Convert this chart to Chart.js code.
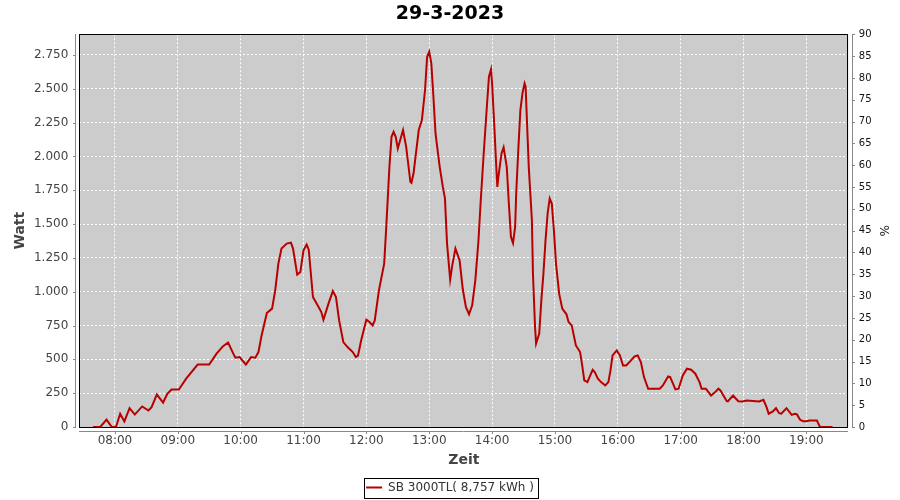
<!DOCTYPE html>
<html>
<head>
<meta charset="utf-8">
<title>29-3-2023</title>
<script src="https://cdn.jsdelivr.net/npm/chart.js@4.4.0/dist/chart.umd.min.js"></script>
<style>
  html, body { margin: 0; padding: 0; background: #ffffff; }
  #wrap { width: 900px; height: 500px; }
</style>
</head>
<body>
<div id="wrap"><canvas id="power" width="900" height="500"></canvas></div>
<script>
var times = [
  "07:39", "07:46", "07:52", "07:57", "08:01", "08:05", "08:09", "08:14", "08:19", "08:26",
  "08:32", "08:35", "08:40", "08:46", "08:50", "08:54", "09:01", "09:08", "09:19", "09:30",
  "09:37", "09:43", "09:48", "09:53", "09:55", "09:59", "10:05", "10:10", "10:14", "10:17",
  "10:20", "10:25", "10:30", "10:33", "10:36", "10:39", "10:44", "10:48", "10:50", "10:54",
  "10:57", "11:00", "11:03", "11:05", "11:09", "11:14", "11:17", "11:19", "11:24", "11:28",
  "11:31", "11:34", "11:38", "11:42", "11:47", "11:50", "11:52", "11:55", "12:00", "12:03",
  "12:06", "12:08", "12:12", "12:17", "12:19", "12:22", "12:24", "12:26", "12:28", "12:30",
  "12:35", "12:38", "12:42", "12:43", "12:45", "12:50", "12:53", "12:56", "12:58", "13:00",
  "13:02", "13:04", "13:06", "13:10", "13:13", "13:15", "13:17", "13:20", "13:22", "13:25",
  "13:29", "13:32", "13:35", "13:38", "13:41", "13:44", "13:47", "13:49", "13:52", "13:55",
  "13:57", "13:59", "14:00", "14:02", "14:04", "14:05", "14:06", "14:09", "14:11", "14:14",
  "14:16", "14:18", "14:20", "14:22", "14:23", "14:25", "14:27", "14:29", "14:31", "14:32",
  "14:33", "14:35", "14:38", "14:39", "14:41", "14:42", "14:45", "14:47", "14:49", "14:51",
  "14:53", "14:55", "14:57", "14:59", "15:01", "15:04", "15:07", "15:11", "15:13", "15:16",
  "15:20", "15:24", "15:26", "15:28", "15:31", "15:33", "15:36", "15:38", "15:41", "15:44",
  "15:48", "15:51", "15:53", "15:55", "15:59", "16:02", "16:05", "16:08", "16:12", "16:16",
  "16:19", "16:22", "16:25", "16:29", "16:40", "16:43", "16:48", "16:50", "16:55", "16:58",
  "17:02", "17:06", "17:10", "17:14", "17:18", "17:20", "17:24", "17:29", "17:33", "17:36",
  "17:38", "17:44", "17:45", "17:50", "17:55", "17:59", "18:03", "18:15", "18:19", "18:22",
  "18:24", "18:28", "18:31", "18:34", "18:36", "18:41", "18:46", "18:49", "18:51", "18:54",
  "18:57", "19:00", "19:03", "19:10", "19:13", "19:25"
];
var watts = [
  0, 0, 55, 0, 0, 98, 41, 139, 92, 152,
  122, 147, 240, 181, 246, 277, 277, 357, 462, 462,
  542, 596, 625, 542, 512, 517, 462, 517, 512, 554,
  677, 842, 875, 1010, 1208, 1319, 1356, 1363, 1319, 1126,
  1146, 1306, 1348, 1311, 961, 892, 850, 793, 916, 1005,
  961, 788, 628, 591, 554, 517, 527, 640, 793, 776,
  751, 788, 1010, 1208, 1479, 1923, 2145, 2182, 2145, 2059,
  2195, 2071, 1812, 1805, 1874, 2195, 2269, 2491, 2737, 2774,
  2688, 2441, 2170, 1923, 1775, 1690, 1356, 1090, 1195, 1319,
  1232, 1020, 887, 833, 899, 1084, 1380, 1652, 2022, 2367,
  2589, 2643, 2540, 2244, 1923, 1775, 1849, 2022, 2067, 1923,
  1652, 1405, 1360, 1479, 1726, 2047, 2343, 2466, 2540, 2515,
  2318, 1923, 1529, 1134, 739, 616, 690, 936, 1134, 1380,
  1578, 1689, 1652, 1455, 1208, 986, 875, 833, 776, 751,
  603, 554, 455, 344, 332, 369, 423, 406, 357, 332,
  307, 332, 418, 529, 566, 529, 455, 455, 487, 522,
  529, 480, 369, 283, 283, 307, 374, 369, 278, 283,
  381, 431, 423, 394, 332, 283, 283, 233, 258, 283,
  270, 191, 189, 233, 191, 189, 196, 189, 201, 147,
  98, 115, 139, 102, 98, 139, 90, 98, 93, 53,
  43, 43, 48, 48, 0, 0
];
var hourTicks = ["08:00", "09:00", "10:00", "11:00", "12:00", "13:00", "14:00", "15:00", "16:00", "17:00", "18:00", "19:00"];
var wattTicks = [0, 250, 500, 750, 1000, 1250, 1500, 1750, 2000, 2250, 2500, 2750];
var percentTicks = [0, 5, 10, 15, 20, 25, 30, 35, 40, 45, 50, 55, 60, 65, 70, 75, 80, 85, 90];
var seriesLabel = "SB 3000TL( 8,757 kWh )";

function toMin(t) {
    var p = t.split(":");
    return parseInt(p[0], 10) * 60 + parseInt(p[1], 10);
}

function fmtTime(m) {
    var h = Math.floor(m / 60), mm = Math.round(m % 60);
    return (h < 10 ? "0" : "") + h + ":" + (mm < 10 ? "0" : "") + mm;
}

// german thousands separator: 2.750
function fmtWatt(v) {
    if (v < 1000) return String(v);
    var r = String(v % 1000);
    while (r.length < 3) r = "0" + r;
    return Math.floor(v / 1000) + "." + r;
}

var points = [];
for (var i = 0; i < times.length; i++) {
    points.push({ x: toMin(times[i]), y: watts[i] });
}

var FONT = "'DejaVu Sans', 'Liberation Sans', sans-serif";

// grey plot, black outline, offset axis lines with small tick marks, box round legend
var plotFrame = {
    id: "plotFrame",
    beforeDraw: function(chart) {
        var ctx = chart.ctx, a = chart.chartArea;
        ctx.save();
        ctx.fillStyle = "#cccccc";
        ctx.fillRect(a.left, a.top, a.right - a.left, a.bottom - a.top);
        ctx.restore();
    },
    afterDraw: function(chart) {
        var ctx = chart.ctx, a = chart.chartArea, s = chart.scales;
        var L = Math.round(a.left), R = Math.round(a.right), T = Math.round(a.top), B = Math.round(a.bottom);
        ctx.save();
        ctx.lineWidth = 1;
        ctx.strokeStyle = "#000000";
        ctx.strokeRect(L + 0.5, T + 0.5, R - L - 1, B - T);

        ctx.strokeStyle = "#888888";
        ctx.beginPath();
        ctx.moveTo(L - 3.5, T); ctx.lineTo(L - 3.5, B + 1);
        ctx.moveTo(R + 4.5, T); ctx.lineTo(R + 4.5, B + 1);
        ctx.moveTo(L, B + 4.5); ctx.lineTo(R, B + 4.5);
        wattTicks.forEach(function(v) {
            var y = Math.round(s.y.getPixelForValue(v)) + 0.5;
            ctx.moveTo(L - 6, y); ctx.lineTo(L - 3, y);
        });
        percentTicks.forEach(function(v) {
            var y = Math.round(s.y1.getPixelForValue(v)) + 0.5;
            ctx.moveTo(R + 4, y); ctx.lineTo(R + 7, y);
        });
        hourTicks.forEach(function(h) {
            var x = Math.round(s.x.getPixelForValue(toMin(h))) + 0.5;
            ctx.moveTo(x, B + 4); ctx.lineTo(x, B + 7);
        });
        ctx.stroke();

        var hb = chart.legend.legendHitBoxes[0];
        if (hb) {
            ctx.strokeStyle = "#000000";
            ctx.strokeRect(Math.round(hb.left - 2) + 0.5, Math.round(hb.top - 4) + 0.5,
                           Math.round(hb.width + 6), 20);
        }
        ctx.restore();
    }
};

new Chart(document.getElementById("power"), {
    type: "line",
    data: {
        datasets: [{
            label: seriesLabel,
            data: points,
            borderColor: "#b80000",
            backgroundColor: "#b80000",
            borderWidth: 2,
            pointRadius: 0,
            pointStyle: "line",
            tension: 0,
            fill: false
        }]
    },
    options: {
        responsive: false,
        animation: false,
        events: [],
        layout: { padding: { left: 0, right: 0, top: 0, bottom: -3.5 } },
        plugins: {
            title: {
                display: true,
                text: "29-3-2023",
                color: "#000000",
                font: { family: FONT, size: 19, weight: "bold" },
                padding: { top: 3, bottom: 8.5 }
            },
            legend: {
                position: "bottom",
                labels: {
                    usePointStyle: true,
                    pointStyle: "line",
                    pointStyleWidth: 16,
                    boxWidth: 16,
                    padding: 10,
                    color: "#333333",
                    font: { family: FONT, size: 12 }
                }
            },
            tooltip: { enabled: false }
        },
        scales: {
            x: {
                type: "linear",
                min: 446,
                max: 1180,
                afterBuildTicks: function(axis) {
                    axis.ticks = hourTicks.map(function(h) { return { value: toMin(h) }; });
                },
                afterFit: function(axis) { axis.height = 44.5; },
                ticks: {
                    autoSkip: false,
                    maxRotation: 0,
                    padding: 7,
                    color: "#444444",
                    font: { family: FONT, size: 12 },
                    callback: function(v) { return fmtTime(v); }
                },
                grid: { color: "#ffffff", lineWidth: 1, drawTicks: false },
                border: { display: false, dash: [2, 2] },
                title: {
                    display: true,
                    text: "Zeit",
                    color: "#444444",
                    font: { family: FONT, size: 14, weight: "bold" },
                    padding: { top: 0, bottom: 3 }
                }
            },
            y: {
                type: "linear",
                position: "left",
                min: 0,
                max: 2903,
                afterBuildTicks: function(axis) {
                    axis.ticks = wattTicks.map(function(v) { return { value: v }; });
                },
                afterFit: function(axis) { axis.width = 79.3; },
                ticks: {
                    padding: 11,
                    color: "#444444",
                    font: { family: FONT, size: 12 },
                    callback: function(v) { return fmtWatt(v); }
                },
                grid: { color: "#ffffff", lineWidth: 1, drawTicks: false },
                border: { display: false, dash: [2, 2] },
                title: {
                    display: true,
                    text: "Watt",
                    color: "#444444",
                    font: { family: FONT, size: 14, weight: "bold" },
                    padding: { top: 11.5, bottom: 0 }
                }
            },
            y1: {
                type: "linear",
                position: "right",
                min: 0,
                max: 90,
                afterBuildTicks: function(axis) {
                    axis.ticks = percentTicks.map(function(v) { return { value: v }; });
                },
                afterFit: function(axis) { axis.width = 51.7; },
                ticks: {
                    padding: 10.5,
                    color: "#111111",
                    font: { family: FONT, size: 10 }
                },
                grid: { drawOnChartArea: false, drawTicks: false },
                border: { display: false },
                title: {
                    display: true,
                    text: "%",
                    color: "#222222",
                    font: { family: FONT, size: 12 },
                    padding: { top: 10, bottom: 0 }
                }
            }
        }
    },
    plugins: [plotFrame]
});
</script>
</body>
</html>
